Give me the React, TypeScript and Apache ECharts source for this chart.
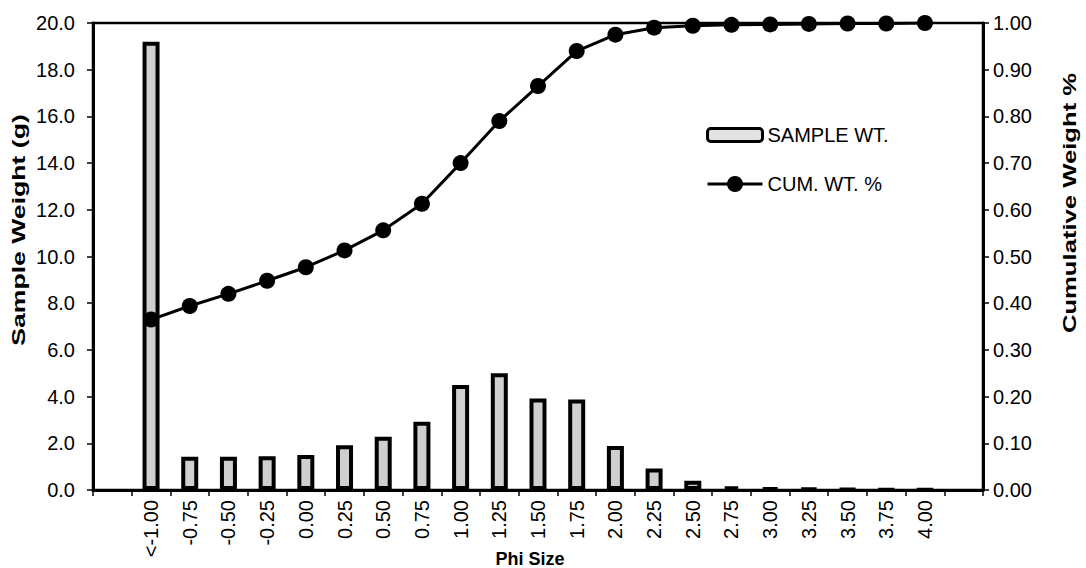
import React, { useEffect, useRef } from "react";
import * as echarts from "echarts";

const categories = ["", "<-1.00", "-0.75", "-0.50", "-0.25", "0.00", "0.25", "0.50", "0.75", "1.00", "1.25", "1.50", "1.75", "2.00", "2.25", "2.50", "2.75", "3.00", "3.25", "3.50", "3.75", "4.00", ""];
const sampleWt = [null, 19.2, 1.42, 1.42, 1.45, 1.5, 1.92, 2.28, 2.92, 4.5, 5.0, 3.92, 3.88, 1.88, 0.92, 0.4, 0.15, 0.09, 0.06, 0.04, 0.03, 0.02, null];
const cumWt = [null, 0.365, 0.394, 0.42, 0.448, 0.477, 0.513, 0.556, 0.613, 0.7, 0.79, 0.865, 0.94, 0.975, 0.99, 0.994, 0.996, 0.997, 0.998, 0.999, 0.999, 1.0, null];

const FONT = "Arial, 'Liberation Sans', sans-serif";

export default function App() {
  const ref = useRef<HTMLDivElement>(null);
  useEffect(() => {
    if (!ref.current) return;
    const chart = echarts.init(ref.current, null, { renderer: "svg" });
    chart.setOption({
      animation: false,
      backgroundColor: "#fff",
      textStyle: { fontFamily: FONT },
      grid: { left: 93, right: 103, top: 23, bottom: 78, show: true, borderColor: "#000", borderWidth: 2.5, containLabel: false },
      legend: [
        {
          orient: "vertical",
          left: 706,
          top: 125,
          padding: 0,
          itemWidth: 55,
          itemHeight: 13,
          textStyle: { fontSize: 20, color: "#000", fontFamily: FONT },
          itemStyle: { borderColor: "#000", borderWidth: 3, color: "#e2e2e2" },
          data: ["SAMPLE WT."],
        },
        {
          orient: "vertical",
          left: 706,
          top: 174,
          padding: 0,
          itemWidth: 55,
          itemHeight: 20,
          textStyle: { fontSize: 20, color: "#000", fontFamily: FONT },
          lineStyle: { width: 3, color: "#000" },
          data: ["CUM. WT. %"],
        },
      ],
      xAxis: {
        type: "category",
        data: categories,
        axisLine: { lineStyle: { color: "#000", width: 3 } },
        axisTick: { show: true, length: 6, interval: 0, lineStyle: { color: "#000", width: 1.5 } },
        axisLabel: { interval: 0, rotate: 90, fontSize: 20, color: "#000", margin: 10, fontFamily: FONT },
        splitLine: { show: false },
      },
      yAxis: [
        {
          type: "value",
          min: 0,
          max: 20,
          interval: 2,
          position: "left",
          axisLine: { show: true, lineStyle: { color: "#000", width: 3 } },
          axisTick: { show: true, length: 6, lineStyle: { color: "#000", width: 1.5 } },
          axisLabel: { fontSize: 20, color: "#000", margin: 18, fontFamily: FONT, formatter: (v: number) => v.toFixed(1) },
          splitLine: { show: false },
        },
        {
          type: "value",
          min: 0,
          max: 1,
          interval: 0.1,
          position: "right",
          axisLine: { show: true, lineStyle: { color: "#000", width: 3 } },
          axisTick: { show: true, length: 6, lineStyle: { color: "#000", width: 1.5 } },
          axisLabel: { fontSize: 20, color: "#000", margin: 10, fontFamily: FONT, formatter: (v: number) => v.toFixed(2) },
          splitLine: { show: false },
        },
      ],
      series: [
        {
          name: "SAMPLE WT.",
          type: "bar",
          yAxisIndex: 0,
          data: sampleWt,
          barWidth: 17,
          itemStyle: { color: "#cfcfcf", borderColor: "#000", borderWidth: 4 },
        },
        {
          name: "CUM. WT. %",
          type: "line",
          yAxisIndex: 1,
          data: cumWt,
          symbol: "circle",
          symbolSize: 16,
          lineStyle: { color: "#000", width: 3 },
          itemStyle: { color: "#000" },
        },
      ],
      graphic: [
        {
          type: "text",
          x: 18,
          y: 230,
          rotation: Math.PI / 2,
          scaleX: 1.4,
          style: { text: "Sample Weight (g)", font: "bold 19px " + FONT, fill: "#000", align: "center", verticalAlign: "middle" },
        },
        {
          type: "text",
          x: 1070,
          y: 203,
          rotation: Math.PI / 2,
          scaleX: 1.35,
          style: { text: "Cumulative Weight %", font: "bold 19px " + FONT, fill: "#000", align: "center", verticalAlign: "middle" },
        },
        {
          type: "text",
          x: 530,
          y: 559,
          style: { text: "Phi Size", font: "bold 18px " + FONT, fill: "#000", align: "center", verticalAlign: "middle" },
        },
      ],
    });
    return () => chart.dispose();
  }, []);
  return <div ref={ref} style={{ position: "fixed", left: 0, top: 0, width: 1086, height: 568 }} />;
}
